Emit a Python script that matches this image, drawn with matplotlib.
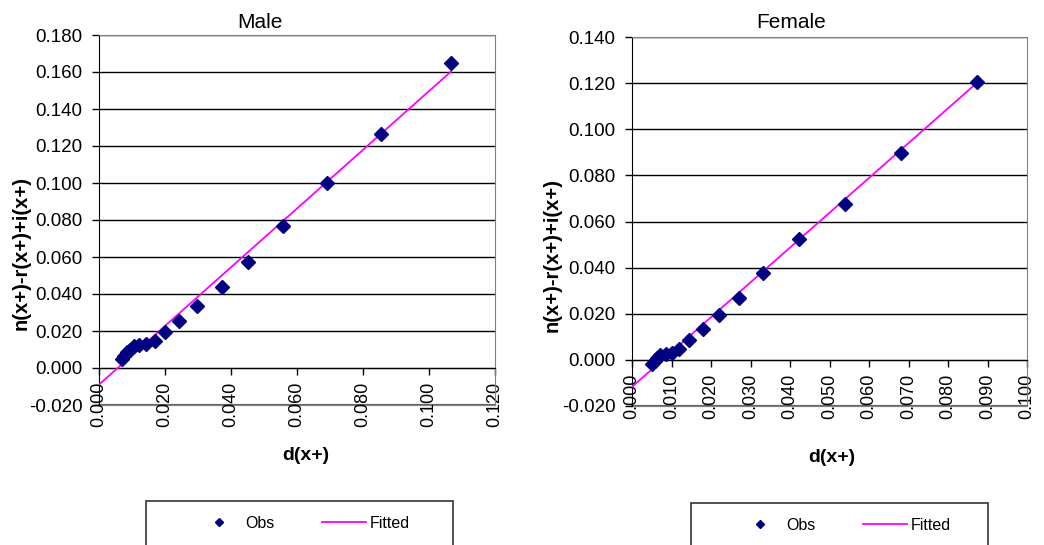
"""
Male / Female fitted vs observed plots (Excel-style).
"""

import matplotlib
matplotlib.use("Agg")
import matplotlib.pyplot as plt
from matplotlib.patches import Rectangle
from matplotlib.ticker import FormatStrFormatter, MultipleLocator

plt.rcParams["font.family"] = ["Liberation Sans", "DejaVu Sans"]

# ---- data ----
male_x = [0.0071, 0.0076, 0.0084, 0.0094, 0.0107, 0.0122, 0.0141, 0.0169, 0.0200,
          0.0243, 0.0298, 0.0372, 0.0453, 0.0558, 0.0692, 0.0855, 0.1067]
male_y = [0.0050, 0.0067, 0.0085, 0.0099, 0.0117, 0.0126, 0.0130, 0.0146, 0.0195,
          0.0254, 0.0337, 0.0436, 0.0571, 0.0766, 0.1000, 0.1265, 0.1649]
male_fit_x = [0.0000, 0.1067]
male_fit_y = [-0.0090, 0.1603]

female_x = [0.0051, 0.0057, 0.0063, 0.0072, 0.0087, 0.0100, 0.0120, 0.0144, 0.0181,
            0.0219, 0.0272, 0.0332, 0.0424, 0.0538, 0.0681, 0.0873]
female_y = [-0.0020, -0.0004, 0.0009, 0.0020, 0.0025, 0.0030, 0.0046, 0.0086, 0.0136,
            0.0194, 0.0270, 0.0378, 0.0525, 0.0677, 0.0899, 0.1206]
female_fit_x = [0.0000, 0.0873]
female_fit_y = [-0.0117, 0.1201]

OBS_COLOR = "#000080"
FIT_COLOR = "#FF00FF"
FRAME_GRAY = "#808080"
YLABEL = "n(x+)-r(x+)+i(x+)"

W, H = 1044, 545
fig = plt.figure(figsize=(W / 100, H / 100), dpi=100)


def px(x, y):
    """pixel coords (from top-left) -> figure fraction"""
    return x / W, 1 - y / H


def make_panel(rect, xs, ys, fx, fy, xlim, xstep, ylim):
    ax = fig.add_axes(rect)
    ax.set_xlim(*xlim)
    ax.set_ylim(*ylim)
    ax.xaxis.set_major_locator(MultipleLocator(xstep))
    ax.yaxis.set_major_locator(MultipleLocator(0.02))
    ax.xaxis.set_major_formatter(FormatStrFormatter("%.3f"))
    ax.yaxis.set_major_formatter(FormatStrFormatter("%.3f"))
    ax.yaxis.grid(True, color="black", linewidth=1.0)
    ax.set_axisbelow(True)

    ax.spines["bottom"].set_position(("data", 0))
    ax.spines["bottom"].set_color("black")
    ax.spines["left"].set_color("black")
    for s in ("top", "right"):
        ax.spines[s].set_color(FRAME_GRAY)
    ax.axhline(ylim[0], color=FRAME_GRAY, linewidth=1.6, clip_on=False, zorder=0.5)

    ax.tick_params(axis="y", direction="out", length=5, width=1, pad=7, labelsize=13.5)
    ax.tick_params(axis="x", direction="out", length=5, width=1, pad=5, labelsize=13,
                   labelrotation=90)

    l1, = ax.plot(xs, ys, linestyle="none", marker="D", markersize=7,
                  color=OBS_COLOR, label="Obs", zorder=4)
    l2, = ax.plot(fx, fy, color=FIT_COLOR, linewidth=1.3, label="Fitted", zorder=3)
    return ax, [l1, l2]


ax_m, h_m = make_panel([99 / W, 140 / H, 396 / W, 370 / H], male_x, male_y,
                       male_fit_x, male_fit_y, (0, 0.12), 0.02, (-0.02, 0.18))
ax_f, h_f = make_panel([632 / W, 139 / H, 395 / W, 369 / H], female_x, female_y,
                       female_fit_x, female_fit_y, (0, 0.10), 0.01, (-0.02, 0.14))

# titles and axis titles
fig.text(*px(260, 23), "Male", fontsize=15, ha="center", va="center")
fig.text(*px(791, 23), "Female", fontsize=15, ha="center", va="center")
for xpos, ypos in [(21, 253), (552, 255)]:
    fig.text(*px(xpos, ypos), YLABEL, fontsize=14.5, fontweight="bold",
             rotation=90, ha="center", va="center")
fig.text(*px(306, 456), "d(x+)", fontsize=14, fontweight="bold", ha="center", va="center")
fig.text(*px(832, 458), "d(x+)", fontsize=14, fontweight="bold", ha="center", va="center")

# legends (boxes run off the bottom edge)
for handles, box, anchor in [(h_m, (146, 501, 307), (197, 523)),
                             (h_f, (691, 503, 297), (738, 525))]:
    bx, by, bw = box
    fig.patches.append(Rectangle(px(bx, by + 60), bw / W, 60 / H,
                                 transform=fig.transFigure, fill=False,
                                 edgecolor="#333333", linewidth=1.2))
    fig.legend(handles=handles, loc="center left", bbox_to_anchor=px(*anchor),
               ncol=2, frameon=False, fontsize=11.5, handlelength=2.75,
               handletextpad=0.25, columnspacing=3.0, borderpad=0,
               borderaxespad=0, markerscale=0.55)

fig.savefig("out.png", dpi=100)
plt.close(fig)
